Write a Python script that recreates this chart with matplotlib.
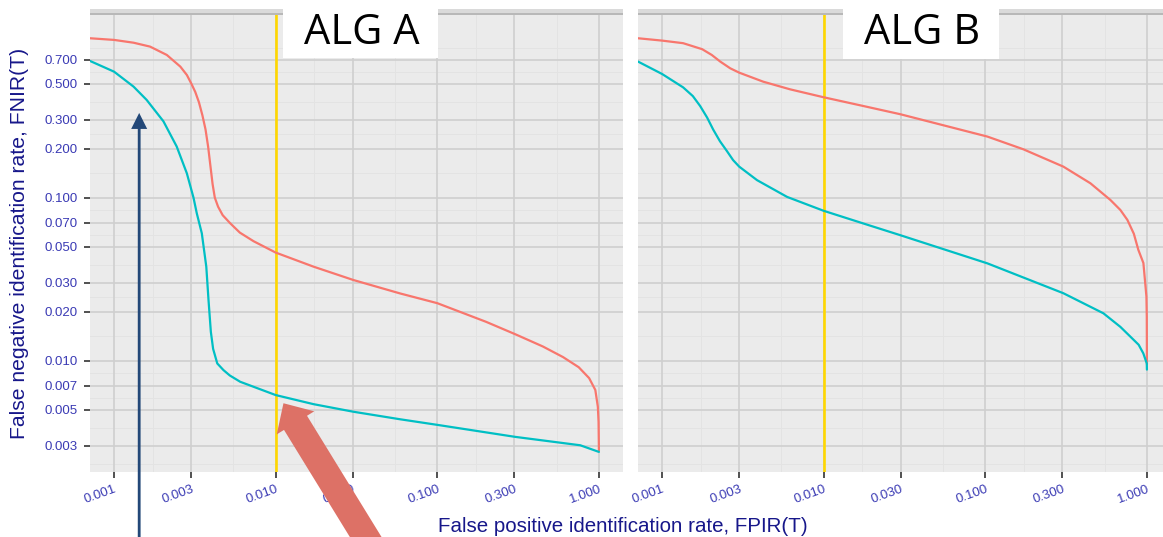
import matplotlib
matplotlib.use("Agg")
import matplotlib.pyplot as plt
from matplotlib.patches import Rectangle, Polygon
from matplotlib.ticker import FixedLocator, NullLocator
import numpy as np

# ---------------- data ----------------
x_ticks = [0.001, 0.003, 0.010, 0.030, 0.100, 0.300, 1.000]
x_tick_labels = ["0.001", "0.003", "0.010", "0.030", "0.100", "0.300", "1.000"]
y_ticks = [0.003, 0.005, 0.007, 0.010, 0.020, 0.030, 0.050, 0.070,
           0.100, 0.200, 0.300, 0.500, 0.700]
y_tick_labels = ["0.003", "0.005", "0.007", "0.010", "0.020", "0.030", "0.050",
                 "0.070", "0.100", "0.200", "0.300", "0.500", "0.700"]

panel_titles = ["ALG A", "ALG B"]
threshold_fpir = 0.010

# ALG A, red series
a_red_fpir = [0.00071, 0.001, 0.00132, 0.00167, 0.00212, 0.00257, 0.00282, 0.0030,
              0.00318, 0.00335, 0.00352, 0.00368, 0.00382, 0.00395, 0.00407, 0.00420,
              0.00440, 0.00470, 0.00523, 0.0060, 0.0073, 0.010, 0.01714, 0.0303, 0.059,
              0.100, 0.200, 0.304, 0.45, 0.60, 0.75, 0.87, 0.95, 0.985, 0.995, 1.0]
a_red_fnir = [0.951, 0.929, 0.893, 0.845, 0.751, 0.637, 0.566, 0.503,
              0.445, 0.385, 0.320, 0.262, 0.205, 0.155, 0.121, 0.100,
              0.088, 0.078, 0.0696, 0.061, 0.054, 0.046, 0.0377, 0.0312, 0.0258,
              0.0225, 0.0173, 0.0145, 0.0122, 0.0105, 0.0091, 0.0078, 0.0066, 0.0052,
              0.0042, 0.0028]

# ALG A, cyan series
a_cyan_fpir = [0.00071, 0.001, 0.00132, 0.00159, 0.00202, 0.00244, 0.00282, 0.0031,
               0.00325, 0.00349, 0.00372, 0.00384, 0.00397, 0.00410, 0.00435, 0.00475,
               0.0052, 0.00603, 0.010, 0.01714, 0.0303, 0.059, 0.100, 0.304, 0.767, 1.0]
a_cyan_fnir = [0.690, 0.593, 0.480, 0.398, 0.294, 0.206, 0.141, 0.100,
               0.080, 0.0604, 0.0377, 0.0235, 0.0150, 0.0118, 0.0096, 0.00874,
               0.0081, 0.00741, 0.00614, 0.0054, 0.00485, 0.00436, 0.00403, 0.0034,
               0.00302, 0.00275]

# ALG B, red series
b_red_fpir = [0.00071, 0.001, 0.00135, 0.00177, 0.00203, 0.00229, 0.00264, 0.0030,
              0.00422, 0.0062, 0.010, 0.0176, 0.0298, 0.103, 0.172, 0.304, 0.447,
              0.594, 0.685, 0.757, 0.83, 0.885, 0.951, 0.993, 0.998, 1.0]
b_red_fnir = [0.951, 0.920, 0.887, 0.815, 0.751, 0.684, 0.622, 0.585,
              0.515, 0.462, 0.413, 0.365, 0.325, 0.237, 0.198, 0.155, 0.1225,
              0.0968, 0.084, 0.073, 0.060, 0.0478, 0.0397, 0.0247, 0.0186, 0.0095]

# ALG B, cyan series
b_cyan_fpir = [0.00071, 0.001, 0.00135, 0.00155, 0.00172, 0.00190, 0.00207, 0.00228,
               0.00252, 0.00275, 0.0030, 0.00387, 0.00594, 0.010, 0.0176, 0.0298,
               0.103, 0.304, 0.538, 0.685, 0.79, 0.889, 0.95, 0.998, 1.0]
b_cyan_fnir = [0.684, 0.574, 0.475, 0.420, 0.365, 0.310, 0.262, 0.222,
               0.193, 0.170, 0.155, 0.128, 0.101, 0.083, 0.0694, 0.0588,
               0.0395, 0.0259, 0.0195, 0.0161, 0.01402, 0.0125, 0.01107, 0.0096, 0.0088]

# annotation anchors (data coordinates of arrow tips in ALG A panel)
blue_arrow_tip = (0.00143, 0.331)
red_arrow_tip = (0.01117, 0.00547)

# ---------------- style ----------------
W, H = 1163, 537
RED = "#F8766D"
CYAN = "#00BFC4"
GOLD = "#FFD700"
BG = "#EBEBEB"
MAJ = "#CFCFCF"
MINR = "#E3E3E3"
TICKC = "#3A3AB4"
TITLEC = "#17178A"
FONT = ["Liberation Sans", "DejaVu Sans"]

fig = plt.figure(figsize=(W / 100, H / 100), dpi=100)
fig.patch.set_facecolor("white")


def fx(px):
    return px / W


def fy(py):
    return 1 - py / H


pw = (623 - 90) / W
ph = (472 - 14.5) / H
axA = fig.add_axes([fx(90), fy(472), pw, ph])
axB = fig.add_axes([fx(638), fy(472), pw, ph])

XLIM = (10 ** -3.149, 10 ** 0.149)
YLIM = (10 ** -2.684, 10 ** 0.124)


def midpoints(vals):
    lv = np.log10(vals)
    mids = list((lv[:-1] + lv[1:]) / 2)
    mids = [lv[0] - (lv[1] - lv[0]) / 2] + mids + [lv[-1] + (lv[-1] - lv[-2]) / 2]
    return [10 ** m for m in mids]


for i, ax in enumerate([axA, axB]):
    ax.set_xscale("log")
    ax.set_yscale("log")
    ax.set_facecolor(BG)
    for s in ax.spines.values():
        s.set_visible(False)
    # grid lines drawn explicitly (minor at log-midpoints, like ggplot)
    for v in midpoints(x_ticks):
        ax.axvline(v, color=MINR, lw=0.7, zorder=0.5)
    for v in midpoints(y_ticks):
        ax.axhline(v, color=MINR, lw=0.7, zorder=0.5)
    for v in x_ticks:
        ax.axvline(v, color=MAJ, lw=1.2, zorder=0.6)
    for v in y_ticks:
        ax.axhline(v, color=MAJ, lw=1.2, zorder=0.6)
    ax.axvline(threshold_fpir, color=GOLD, lw=1.9, zorder=2)

    ax.set_xlim(*XLIM)
    ax.set_ylim(*YLIM)
    ax.xaxis.set_major_locator(FixedLocator(x_ticks))
    ax.xaxis.set_minor_locator(NullLocator())
    ax.yaxis.set_major_locator(FixedLocator(y_ticks))
    ax.yaxis.set_minor_locator(NullLocator())
    ax.set_xticklabels(x_tick_labels)
    ax.tick_params(axis="x", which="major", length=4, width=1.2, color="#333333",
                   labelsize=9.5, labelcolor=TICKC, pad=4)
    for lbl in ax.get_xticklabels():
        lbl.set_rotation(20)
        lbl.set_ha("right")
        lbl.set_rotation_mode("anchor")
        lbl.set_family(FONT)
    if i == 0:
        ax.set_yticklabels(y_tick_labels)
        ax.tick_params(axis="y", which="major", length=4, width=1.2, color="#333333",
                       labelsize=9.5, labelcolor=TICKC, pad=5)
        for lbl in ax.get_yticklabels():
            lbl.set_family(FONT)
    else:
        ax.tick_params(axis="y", which="major", length=0, labelleft=False)

for ax, xs, ys, c in [(axA, a_red_fpir, a_red_fnir, RED),
                      (axA, a_cyan_fpir, a_cyan_fnir, CYAN),
                      (axB, b_red_fpir, b_red_fnir, RED),
                      (axB, b_cyan_fpir, b_cyan_fnir, CYAN)]:
    ax.plot(xs, ys, color=c, lw=1.6, zorder=3, solid_capstyle="round",
            solid_joinstyle="round")

# strip remnants at the top of each panel
for left in (90, 638):
    fig.add_artist(Rectangle((fx(left), fy(13.3)), pw, (13.3 - 9.3) / H,
                             transform=fig.transFigure, facecolor="#DADADA",
                             edgecolor="none", zorder=1))
    fig.add_artist(Rectangle((fx(left), fy(14.8)), pw, 1.5 / H,
                             transform=fig.transFigure, facecolor="#B8B8B8",
                             edgecolor="none", zorder=1))

# title boxes
for (x0, x1, y1), title in zip([(283.3, 438.3, 58.3), (843.3, 999.0, 59.0)], panel_titles):
    fig.add_artist(Rectangle((fx(x0), fy(y1)), (x1 - x0) / W, y1 / H,
                             transform=fig.transFigure, facecolor="white",
                             edgecolor="none", zorder=6))
    fig.text(fx((x0 + x1) / 2 + 1), fy(33), title, ha="center", va="center",
             fontsize=30, family=["Open Sans", "DejaVu Sans"], color="black", zorder=7)

# axis titles
fig.text(fx(623), fy(526), "False positive identification rate, FPIR(T)",
         ha="center", va="center", fontsize=14.8, color=TITLEC, family=FONT)
fig.text(fx(20), fy(243.5), "False negative identification rate, FNIR(T)",
         ha="center", va="center", rotation=90, fontsize=15.2, color=TITLEC, family=FONT)

# arrows (built in pixel space, anchored on data points)
fig.canvas.draw()
inv = fig.transFigure.inverted()


def arrow_poly(tip, tail, shaft_w, head_w, head_l):
    tip = np.asarray(tip, float)
    tail = np.asarray(tail, float)
    d = tail - tip
    d /= np.hypot(*d)
    n = np.array([-d[1], d[0]])
    base = tip + d * head_l
    pts = [tip,
           base + n * head_w / 2,
           base + n * shaft_w / 2,
           tail + n * shaft_w / 2,
           tail - n * shaft_w / 2,
           base - n * shaft_w / 2,
           base - n * head_w / 2]
    return inv.transform(np.array(pts))


tipB = axA.transData.transform(blue_arrow_tip)
tailB = np.array([tipB[0], -10.0])
fig.add_artist(Polygon(arrow_poly(tipB, tailB, 2.8, 16, 16), closed=True,
                       transform=fig.transFigure, facecolor="#234878",
                       edgecolor="none", zorder=5))

tipR = axA.transData.transform(red_arrow_tip)
tailR = tipR + np.array([82.2, -133.7]) * 1.15
fig.add_artist(Polygon(arrow_poly(tipR, tailR, 27, 44, 23), closed=True,
                       transform=fig.transFigure, facecolor="#DD7166",
                       edgecolor="none", zorder=5))

fig.savefig("out.png", dpi=100, facecolor="white")
